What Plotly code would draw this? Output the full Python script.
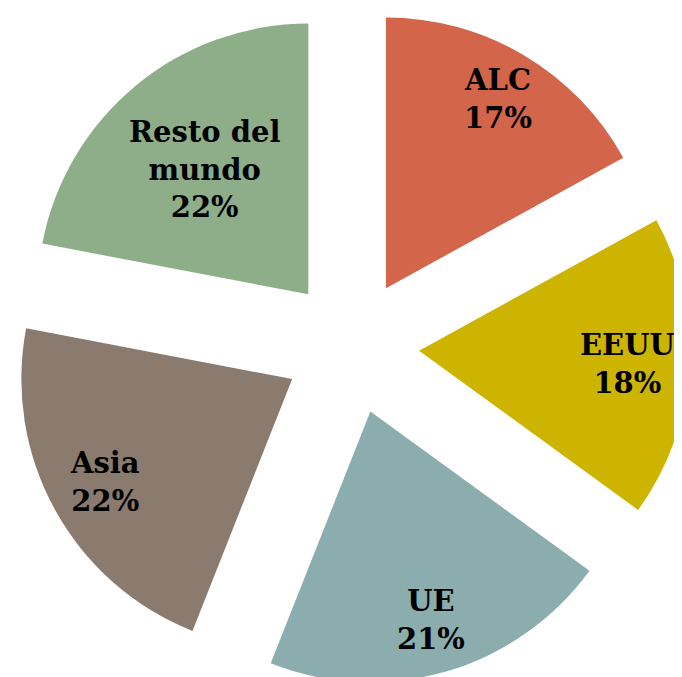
import math
import plotly.graph_objects as go

labels = ["ALC", "EEUU", "UE", "Asia", "Resto del<br>mundo"]
values = [17, 18, 21, 22, 22]
colors = ["#D3654A", "#CCB400", "#8BADAE", "#8B7A6E", "#8EAE8A"]

# style / layout settings
PULL = 0.25
label_radius = [0.81, 0.77, 0.80, 0.79, 0.60]  # label distance from slice tip, as fraction of radius
W, H = 682, 677
DOM_X = [0.0073, 1.0]
DOM_Y = [0.0, 1.0]
FONT = dict(family="DejaVu Serif", size=29, color="black")

fig = go.Figure(
    go.Pie(
        labels=labels,
        values=values,
        sort=False,
        direction="clockwise",
        rotation=0,
        pull=[PULL] * len(values),
        marker=dict(colors=colors, line=dict(width=0)),
        textinfo="none",
        hoverinfo="label+percent",
        showlegend=False,
        domain=dict(x=DOM_X, y=DOM_Y),
    )
)

# pie geometry as plotly computes it
box_w = W * (DOM_X[1] - DOM_X[0])
box_h = H * (DOM_Y[1] - DOM_Y[0])
r = min(box_w, box_h) / 2 / (1 + PULL)
cx = W * (DOM_X[0] + DOM_X[1]) / 2
cy = H * (1 - DOM_Y[0]) - box_h / 2

total = sum(values)
cum = 0.0
annotations = []
for lab, v, f in zip(labels, values, label_radius):
    mid = (cum + v / 2) / total * 2 * math.pi
    cum += v
    sx, sy = math.sin(mid), -math.cos(mid)
    tipx = cx + PULL * r * sx
    tipy = cy + PULL * r * sy
    px = tipx + f * r * sx
    py = tipy + f * r * sy
    pct = round(v / total * 100)
    annotations.append(
        dict(
            x=px / W,
            y=1 - py / H,
            xref="paper",
            yref="paper",
            text=f"<b>{lab}<br>{pct}%</b>",
            showarrow=False,
            xanchor="center",
            yanchor="middle",
            font=FONT,
        )
    )

fig.update_layout(
    width=W,
    height=H,
    margin=dict(l=0, r=0, t=0, b=0),
    paper_bgcolor="white",
    plot_bgcolor="white",
    annotations=annotations,
)

fig.write_html("out.html")
